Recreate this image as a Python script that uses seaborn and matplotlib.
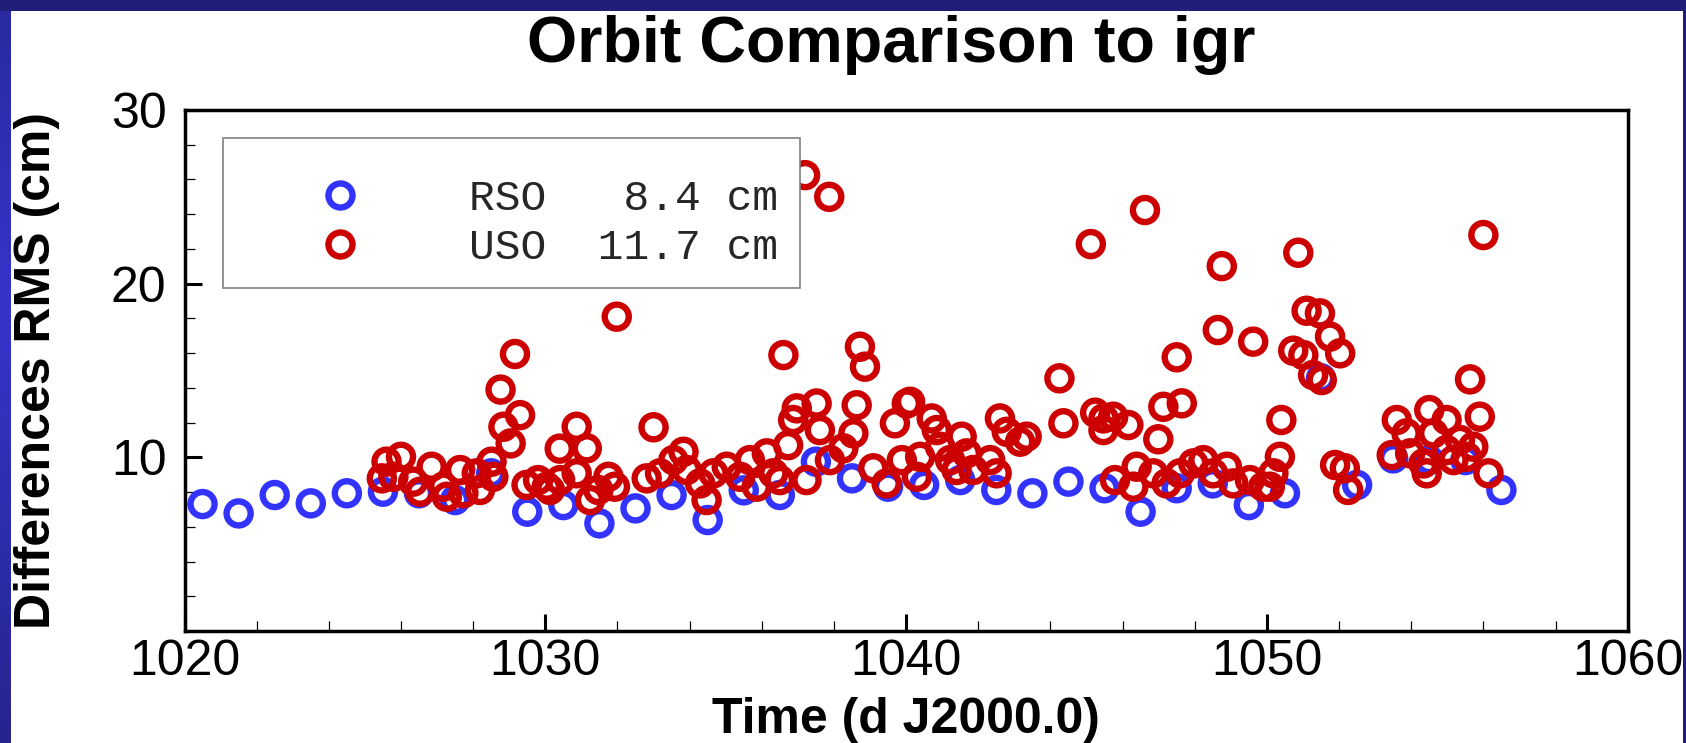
import numpy as np
import pandas as pd
import matplotlib
matplotlib.use("Agg")
import matplotlib.pyplot as plt
import seaborn as sns
from matplotlib.lines import Line2D
from matplotlib.patches import Rectangle
from matplotlib.ticker import MultipleLocator, FixedLocator

# ---------------- data ----------------
rso_time = [1020.5, 1021.5, 1022.5, 1023.5, 1024.5, 1025.5, 1026.5, 1027.5, 1028.5,
            1029.5, 1030.5, 1031.5, 1032.5, 1033.5, 1034.5, 1035.5, 1036.5, 1037.5,
            1038.5, 1039.5, 1040.5, 1041.5, 1042.5, 1043.5, 1044.5, 1045.5, 1046.5,
            1047.5, 1048.5, 1049.5, 1050.5, 1051.5, 1052.5, 1053.5, 1054.5, 1055.5,
            1056.5]
rso_rms = [7.31, 6.77, 7.83, 7.35, 7.93, 8.02, 7.93, 7.54, 9.08,
           6.87, 7.25, 6.20, 7.06, 7.83, 6.39, 8.10, 7.83, 9.75,
           8.79, 8.31, 8.41, 8.69, 8.12, 7.93, 8.60, 8.22, 6.87,
           8.22, 8.50, 7.25, 7.93, 14.55, 8.41, 9.94, 9.84, 9.84,
           8.12]

uso_time = [1025.47, 1025.60, 1025.79, 1026.00, 1026.34, 1026.53, 1026.85, 1027.17,
            1027.27, 1027.64, 1027.73, 1028.10, 1028.19, 1028.56, 1028.51, 1028.76,
            1028.84, 1029.04, 1029.16, 1029.30, 1029.48, 1029.80, 1030.04, 1030.13,
            1030.40, 1030.41, 1030.87, 1030.87, 1031.15, 1031.24, 1031.47, 1031.75,
            1031.93, 1031.98, 1032.81, 1033.00, 1033.18, 1033.55, 1033.83, 1033.92,
            1034.29, 1034.47, 1034.66, 1035.03, 1035.40, 1035.67, 1035.86, 1036.14,
            1036.32, 1036.50, 1036.60, 1036.73, 1036.87, 1036.97, 1037.20, 1037.24,
            1037.52, 1037.61, 1037.87, 1037.89, 1038.26, 1038.54, 1038.63, 1038.72,
            1038.86, 1039.09, 1039.46, 1039.69, 1039.88, 1040.02, 1040.11, 1040.30,
            1040.39, 1040.71, 1040.85, 1040.94, 1041.22, 1041.40, 1041.54, 1041.68,
            1041.86, 1042.33, 1042.51, 1042.60, 1042.79, 1043.16, 1043.34, 1044.25,
            1044.36, 1045.12, 1045.24, 1045.47, 1045.74, 1045.47, 1045.79, 1046.16,
            1046.30, 1046.39, 1046.62, 1046.85, 1046.99, 1047.13, 1047.22, 1047.50,
            1047.59, 1047.64, 1047.96, 1048.24, 1048.51, 1048.64, 1048.75, 1048.89,
            1049.07, 1049.53, 1049.62, 1049.90, 1050.08, 1050.18, 1050.36, 1050.40,
            1050.73, 1050.87, 1051.01, 1051.10, 1051.28, 1051.47, 1051.52, 1051.75,
            1051.89, 1052.03, 1052.16, 1052.25, 1053.46, 1053.60, 1053.87, 1053.97,
            1054.34, 1054.43, 1054.50, 1054.61, 1054.98, 1054.98, 1055.17, 1055.35,
            1055.54, 1055.63, 1055.72, 1055.90, 1056.00, 1056.14]
uso_rms = [8.79, 9.75, 8.88, 10.03, 8.60, 8.02, 9.46, 8.31,
           7.73, 9.27, 7.93, 9.08, 8.12, 8.88, 9.75, 13.90,
           11.76, 10.80, 15.95, 12.43, 8.41, 8.69, 8.31, 8.12,
           10.50, 8.69, 11.76, 9.08, 10.52, 7.54, 8.12, 8.88,
           8.31, 18.10, 8.79, 11.73, 9.08, 9.84, 10.32, 9.27,
           8.50, 7.54, 9.08, 9.46, 8.88, 9.84, 8.31, 10.23,
           9.08, 8.69, 15.89, 10.70, 12.15, 12.82, 26.25, 8.69,
           13.10, 11.57, 25.00, 9.84, 10.52, 11.38, 13.00, 16.37,
           15.22, 9.37, 8.50, 11.96, 9.84, 13.10, 13.20, 8.88,
           10.03, 12.24, 11.57, 10.61, 9.84, 9.27, 11.19, 10.23,
           9.27, 9.84, 9.08, 12.24, 11.47, 10.90, 11.19, 14.55,
           11.96, 22.28, 12.57, 12.24, 12.34, 11.57, 8.69, 11.86,
           8.31, 9.46, 24.24, 9.08, 11.04, 12.91, 8.50, 15.76,
           9.08, 13.11, 9.65, 9.84, 9.08, 17.33, 21.01, 9.46,
           8.50, 8.69, 16.66, 8.31, 8.31, 9.08, 10.03, 12.15,
           16.14, 21.78, 15.89, 18.44, 14.74, 18.29, 14.45, 16.95,
           9.56, 15.99, 9.37, 8.12, 10.13, 12.15, 11.38, 10.23,
           9.65, 9.08, 12.72, 11.38, 12.15, 10.42, 9.84, 11.00,
           10.03, 14.49, 10.61, 12.34, 22.80, 9.08]

series_names = ["RSO", "USO"]
series_means = [8.4, 11.7]
series_colors = ["#3333ff", "#cc0000"]
x_ticks = [1020, 1030, 1040, 1050, 1060]
y_ticks = [10, 20, 30]
title = "Orbit Comparison to igr"
xlabel = "Time (d J2000.0)"
ylabel = "Differences RMS (cm)"

# ---------------- figure ----------------
W, H, DPI = 1686, 743, 100
sns.set_theme(style="white")
plt.rcParams["font.family"] = ["Liberation Sans", "DejaVu Sans"]

fig = plt.figure(figsize=(W / DPI, H / DPI), dpi=DPI, facecolor="#1f1f7a")

# left border gradient strip
rows = H - 11
t = np.linspace(0, 1, rows)[:, None]
top_c = np.array([0x2a, 0x2a, 0xa0]) / 255
mid_c = np.array([0x35, 0x35, 0xcc]) / 255
bot_c = np.array([0x25, 0x25, 0x8e]) / 255
grad = np.where(t < 0.4, top_c + (mid_c - top_c) * (t / 0.4), mid_c + (bot_c - mid_c) * ((t - 0.4) / 0.6))
strip = np.repeat(grad[:, None, :], 11, axis=1)
fig.figimage(strip, xo=0, yo=0, origin="upper", zorder=-3)

# white panel
fig.patches.append(Rectangle((11 / W, 0), (1683 - 11) / W, (H - 11) / H,
                             transform=fig.transFigure, facecolor="white",
                             edgecolor="none", zorder=-2))


def fig_rect(x0, y0, x1, y1):
    return [x0 / W, 1 - y1 / H, (x1 - x0) / W, (y1 - y0) / H]


ax = fig.add_axes(fig_rect(184.5, 110, 1627.7, 631))
ax.set_facecolor("white")

df = pd.concat([
    pd.DataFrame({"time": rso_time, "rms": rso_rms, "series": series_names[0]}),
    pd.DataFrame({"time": uso_time, "rms": uso_rms, "series": series_names[1]}),
], ignore_index=True)

sns.scatterplot(data=df, x="time", y="rms", hue="series",
                palette=dict(zip(series_names, series_colors)),
                marker="o", s=300, linewidth=4.6, legend=False, ax=ax)
for coll in ax.collections:
    fc = coll.get_facecolors()
    coll.set_edgecolors(fc)
    coll.set_facecolor("none")
    coll.set_linewidth(4.6)

ax.set_xlim(1020, 1060)
ax.set_ylim(0, 30)
ax.xaxis.set_major_locator(FixedLocator(x_ticks))
ax.xaxis.set_minor_locator(MultipleLocator(2))
ax.yaxis.set_major_locator(FixedLocator(y_ticks))
ax.yaxis.set_minor_locator(MultipleLocator(2))
ax.set_xticklabels([str(v) for v in x_ticks])
ax.set_yticklabels([str(v) for v in y_ticks])
ax.grid(False)

for sp in ax.spines.values():
    sp.set_visible(True)
    sp.set_color("black")
    sp.set_linewidth(2.5)

ax.tick_params(which="both", direction="in", left=True, bottom=True,
               top=False, right=False, colors="black")
ax.tick_params(which="major", length=12.5, width=2.2)
ax.tick_params(which="minor", length=7, width=0.9)
ax.tick_params(axis="x", which="major", labelsize=36, pad=5.5)
ax.tick_params(axis="y", which="major", labelsize=36, pad=13)

ax.set_xlabel(xlabel, fontsize=36, fontweight="bold", color="black")
ax.xaxis.set_label_coords(0.5, -(697 - 631) / 521)
ax.set_ylabel(ylabel, fontsize=36, fontweight="bold", color="black")
ax.yaxis.set_label_coords((60 - 184.5) / 1443.2, 0.5)

fig.text(891.5 / W, 1 - 62 / H, title, ha="center", va="baseline",
         fontsize=46.5, fontweight="bold", color="black")

# legend box
ax.add_patch(Rectangle((223 / W, 1 - 288 / H), (800 - 223) / W, (288 - 138) / H,
                       transform=fig.transFigure, facecolor="white",
                       edgecolor="#808080", linewidth=1.2, zorder=4,
                       clip_on=False))
handles = [Line2D([], [], marker="o", linestyle="none", markersize=17.3,
                  markerfacecolor="none", markeredgecolor=c, markeredgewidth=4.6)
           for c in series_colors]
labels = [f"{n}{m:6.1f} cm" for n, m in zip(series_names, series_means)]
leg = ax.legend(handles, labels, loc="center left",
                bbox_to_anchor=(275 / W, 1 - 223.5 / H),
                bbox_transform=fig.transFigure, frameon=False, borderpad=0,
                handlelength=2.0, handletextpad=2.0, labelspacing=0.22,
                prop={"family": "Liberation Mono", "size": 31})
leg.set_zorder(5)

fig.savefig("out.png", dpi=DPI, facecolor=fig.get_facecolor())
